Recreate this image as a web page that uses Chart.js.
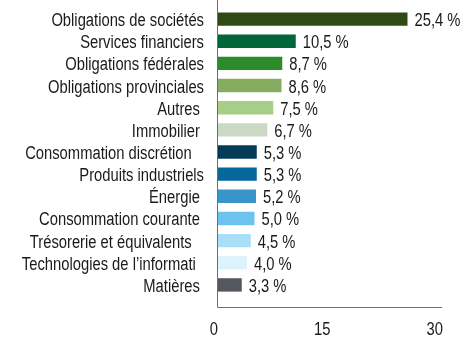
<!DOCTYPE html>
<html lang="fr">
<head>
<meta charset="utf-8">
<script src="https://cdn.jsdelivr.net/npm/chart.js@4/dist/chart.umd.min.js"></script>
<style>
  html, body { margin: 0; padding: 0; background: #fff; }
  #wrap { width: 474px; height: 337px; }
</style>
</head>
<body>
<div id="wrap"><canvas id="sectorChart" width="474" height="337"></canvas></div>
<script>
var sectors = [
  'Obligations de sociétés',
  'Services financiers',
  'Obligations fédérales',
  'Obligations provinciales',
  'Autres ',
  'Immobilier ',
  'Consommation discrétion   ',
  'Produits industriels',
  'Énergie ',
  'Consommation courante ',
  'Trésorerie et équivalents   ',
  'Technologies de l’informati  ',
  'Matières '
];
var weights = [25.4, 10.5, 8.7, 8.6, 7.5, 6.7, 5.3, 5.3, 5.2, 5.0, 4.5, 4.0, 3.3];
var barColors = [
  '#2f4a14', '#00663a', '#2e8b2c', '#86ad5f', '#a5cf86', '#cbd8c4', '#033a57',
  '#06679b', '#3795c9', '#6bc3ee', '#a8def8', '#dcf2fc', '#55575e'
];
var xTicks = [0, 15, 30];

var FONT = "18px 'Liberation Sans', Arial, sans-serif";
var NARROW = 0.82;   // squeeze the sans face down to a narrow width
var TEXT = '#1a1a1a';

function pct(v) {
  return v.toFixed(1).replace('.', ',') + ' %';
}

function narrowText(ctx, str, x, y, align) {
  ctx.save();
  ctx.translate(x, y);
  ctx.scale(NARROW, 1);
  ctx.textAlign = align;
  ctx.fillText(str, 0, 0);
  ctx.restore();
}

// axis lines running a bit past the bars, plus all the labels in a narrow face
var decorations = {
  id: 'decorations',
  afterDatasetsDraw: function (chart) {
    var ctx = chart.ctx;
    var x = chart.scales.x;
    var y = chart.scales.y;
    var area = chart.chartArea;
    var x0 = Math.round(x.getPixelForValue(0)) + 0.5;
    var yBase = Math.round(area.bottom + 11) + 0.5;

    ctx.save();
    ctx.strokeStyle = '#6e6e6e';
    ctx.lineWidth = 1;
    ctx.beginPath();
    ctx.moveTo(x0, 0);
    ctx.lineTo(x0, yBase);
    ctx.lineTo(Math.round(x.getPixelForValue(xTicks[xTicks.length - 1])), yBase);
    ctx.stroke();

    ctx.fillStyle = TEXT;
    ctx.font = FONT;
    ctx.textBaseline = 'middle';

    sectors.forEach(function (name, i) {
      narrowText(ctx, name, area.left - 13, y.getPixelForTick(i) + 2, 'right');
    });

    chart.getDatasetMeta(0).data.forEach(function (bar, i) {
      narrowText(ctx, pct(weights[i]), bar.x + 7, bar.y + 2, 'left');
    });

    xTicks.forEach(function (v) {
      narrowText(ctx, String(v), x.getPixelForValue(v) + 1, yBase + 23, 'right');
    });
    ctx.restore();
  }
};

new Chart(document.getElementById('sectorChart'), {
  type: 'bar',
  data: {
    labels: sectors,
    datasets: [
      {
        data: weights,
        backgroundColor: barColors,
        borderWidth: 0,
        categoryPercentage: 1,
        barPercentage: 0.605
      }
    ]
  },
  options: {
    indexAxis: 'y',
    responsive: false,
    animation: false,
    layout: { padding: { top: 8, right: 32, bottom: 0, left: 0 } },
    plugins: {
      legend: { display: false },
      tooltip: { enabled: false }
    },
    scales: {
      x: {
        min: 0,
        max: 30,
        afterFit: function (scale) { scale.height = 41; },
        grid: { display: false },
        border: { display: false },
        ticks: { display: false }
      },
      y: {
        afterFit: function (scale) { scale.width = 217; },
        grid: { display: false },
        border: { display: false },
        ticks: { display: false }
      }
    }
  },
  plugins: [decorations]
});
</script>
</body>
</html>
